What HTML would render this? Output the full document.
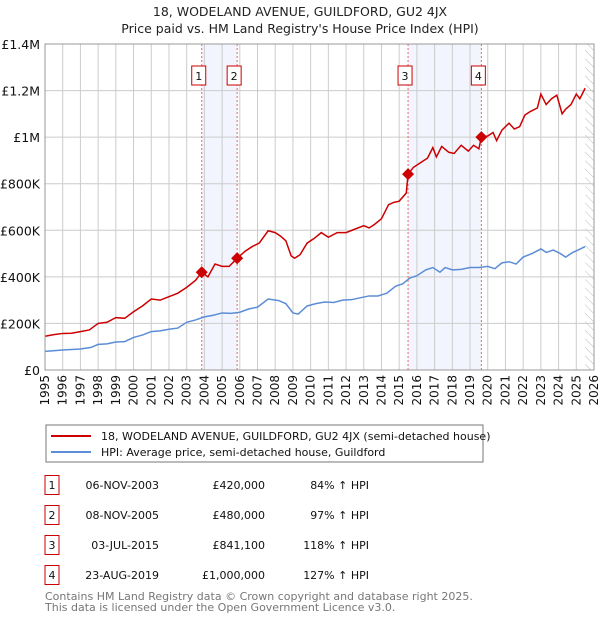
<!DOCTYPE html>
<html><head><meta charset="utf-8">
<style>
body{margin:0;background:#fff;width:600px;height:620px;overflow:hidden;font-family:"DejaVu Sans","Liberation Sans",sans-serif;}
svg{position:absolute;left:0;top:0}
</style></head>
<body>
<svg id="chart" width="600" height="620" font-family="DejaVu Sans, Liberation Sans, sans-serif">
<defs>
<pattern id="hatch" patternUnits="userSpaceOnUse" width="6" height="6" patternTransform="rotate(-45)">
<line x1="0" y1="0" x2="0" y2="6" stroke="#bbb" stroke-width="1"/>
</pattern>
</defs>
<text x="300" y="16" text-anchor="middle" font-size="12.5" fill="#222">18, WODELAND AVENUE, GUILDFORD, GU2 4JX</text>
<text x="300" y="33" text-anchor="middle" font-size="12.5" fill="#222">Price paid vs. HM Land Registry's House Price Index (HPI)</text>
<g id="plot"></g>
<rect x="46" y="425" width="437" height="37" fill="#fff" stroke="#777"/>
<line x1="51" y1="436" x2="91" y2="436" stroke="#cc0000" stroke-width="2"/>
<text x="101" y="440" font-size="11" fill="#111">18, WODELAND AVENUE, GUILDFORD, GU2 4JX (semi-detached house)</text>
<line x1="51" y1="452" x2="91" y2="452" stroke="#5b8dd6" stroke-width="2"/>
<text x="101" y="456" font-size="11" fill="#111">HPI: Average price, semi-detached house, Guildford</text>
<g id="table" font-size="11" fill="#111"></g>
<text x="45" y="600" font-size="11" fill="#777">Contains HM Land Registry data © Crown copyright and database right 2025.</text>
<text x="45" y="611" font-size="11" fill="#777">This data is licensed under the Open Government Licence v3.0.</text>
</svg>
<script>
const yearTicks=[1995,1996,1997,1998,1999,2000,2001,2002,2003,2004,2005,2006,2007,2008,2009,2010,2011,2012,2013,2014,2015,2016,2017,2018,2019,2020,2021,2022,2023,2024,2025,2026];
const yTicks=[0,200000,400000,600000,800000,1000000,1200000,1400000];
const yTickLabels=["£0","£200K","£400K","£600K","£800K","£1M","£1.2M","£1.4M"];
const propT=[1995,1995.5,1996,1996.5,1997,1997.5,1998,1998.5,1999,1999.5,2000,2000.5,2001,2001.5,2002,2002.5,2003,2003.5,2003.85,2004.2,2004.6,2005,2005.4,2005.85,2006.3,2006.7,2007.1,2007.6,2008.0,2008.3,2008.6,2008.9,2009.1,2009.4,2009.8,2010.2,2010.6,2011.0,2011.5,2012.0,2012.5,2013.0,2013.3,2013.6,2014.0,2014.4,2014.7,2015.0,2015.4,2015.5,2015.8,2016.2,2016.6,2016.9,2017.1,2017.4,2017.8,2018.1,2018.5,2018.9,2019.2,2019.5,2019.64,2020.0,2020.3,2020.5,2020.8,2021.2,2021.5,2021.8,2022.1,2022.4,2022.8,2023.0,2023.3,2023.6,2023.9,2024.2,2024.4,2024.7,2025.0,2025.2,2025.5];
const propV=[145000,152000,157000,158000,165000,172000,200000,205000,225000,222000,250000,275000,305000,300000,315000,330000,355000,385000,420000,400000,455000,445000,445000,480000,510000,530000,545000,598000,590000,575000,555000,490000,480000,495000,545000,565000,590000,570000,590000,590000,605000,620000,610000,625000,650000,710000,720000,725000,760000,841000,870000,890000,910000,955000,915000,960000,935000,930000,965000,940000,965000,950000,1000000,1005000,1020000,985000,1030000,1060000,1035000,1045000,1095000,1110000,1125000,1185000,1140000,1165000,1180000,1100000,1120000,1140000,1185000,1165000,1210000];
const hpiT=[1995,1996,1997,1997.6,1998,1998.5,1999,1999.5,2000,2000.5,2001,2001.5,2002,2002.5,2003,2003.5,2004,2004.5,2005,2005.5,2006,2006.5,2007,2007.6,2008.2,2008.6,2009.0,2009.3,2009.8,2010.3,2010.8,2011.3,2011.8,2012.3,2012.8,2013.3,2013.8,2014.3,2014.8,2015.2,2015.6,2016.0,2016.5,2016.9,2017.3,2017.6,2018.0,2018.5,2019.0,2019.5,2020.0,2020.4,2020.8,2021.2,2021.6,2022.0,2022.5,2023.0,2023.3,2023.7,2024.1,2024.4,2024.8,2025.1,2025.5];
const hpiV=[80000,86000,90000,97000,110000,112000,120000,122000,140000,150000,165000,168000,175000,180000,205000,215000,228000,235000,245000,243000,248000,262000,270000,305000,298000,285000,245000,240000,275000,285000,292000,290000,300000,302000,310000,318000,318000,330000,360000,370000,395000,405000,430000,440000,420000,440000,430000,432000,440000,440000,445000,435000,460000,465000,455000,485000,500000,520000,505000,515000,500000,485000,505000,515000,530000];
const saleT=[2003.85,2005.85,2015.5,2019.64];
const saleV=[420000,480000,841100,1000000];
const saleLabels=["1","2","3","4"];
const saleDates=["06-NOV-2003","08-NOV-2005","03-JUL-2015","23-AUG-2019"];
const salePrices=["£420,000","£480,000","£841,100","£1,000,000"];
const saleHpi=["84% ↑ HPI","97% ↑ HPI","118% ↑ HPI","127% ↑ HPI"];

const X0=45,X1=594,Y0=370,Y1=44;
const xs=t=>X0+(t-1995)/(2026-1995)*(X1-X0);
const ys=v=>Y0-v/1400000*(Y0-Y1);
const NS="http://www.w3.org/2000/svg";
const plot=document.getElementById('plot');
function mk(tag,attrs,parent){const e=document.createElementNS(NS,tag);for(const k in attrs)e.setAttribute(k,attrs[k]);(parent||plot).appendChild(e);return e;}

for(const [a,b] of [[0,1],[2,3]]){
  const r=mk('rect',{x:xs(saleT[a]),y:Y1,width:xs(saleT[b])-xs(saleT[a]),height:Y0-Y1,fill:'#f2f5fd'});
  
  
}
const h=mk('rect',{x:xs(2025.5),y:Y1,width:X1-xs(2025.5),height:Y0-Y1,fill:'url(#hatch)'});


yearTicks.forEach(t=>{
  const l=mk('line',{x1:xs(t),x2:xs(t),y1:Y1,y2:Y0,stroke:'#ccc','stroke-width':1});
  
  
  const tx=mk('text',{x:0,y:0,'font-size':12,fill:'#111','text-anchor':'end',transform:`translate(${xs(t)+4},${Y0+5}) rotate(-90)`});
  tx.textContent=t;
  
  
});
yTicks.forEach((v,i)=>{
  const l=mk('line',{x1:X0,x2:X1,y1:ys(v),y2:ys(v),stroke:'#ccc','stroke-width':1});
  
  
  const tx=mk('text',{x:40,y:ys(v)+5,'font-size':12.5,fill:'#111','text-anchor':'end'});
  tx.textContent=yTickLabels[i];
  
  
});
saleT.forEach((t,i)=>{
  const l=mk('line',{x1:xs(t),x2:xs(t),y1:Y1,y2:Y0,stroke:'#e66','stroke-width':1,'stroke-dasharray':'2,2'});
  
  
});
const hp=mk('polyline',{points:hpiT.map((t,i)=>xs(t)+','+ys(hpiV[i])).join(' '),fill:'none',stroke:'#5b8dd6','stroke-width':1.5});


const pp=mk('polyline',{points:propT.map((t,i)=>xs(t)+','+ys(propV[i])).join(' '),fill:'none',stroke:'#cc0000','stroke-width':1.5});


saleT.forEach((t,i)=>{
  const cx=xs(t),cy=ys(saleV[i]);
  const d=mk('polygon',{points:`${cx},${cy-6} ${cx+6},${cy} ${cx},${cy+6} ${cx-6},${cy}`,fill:'#cc0000'});
  
  
  const b=mk('rect',{x:cx-10,y:66,width:14,height:19,fill:'#fff',stroke:'#c00','stroke-width':1});
  
  
  const tx=mk('text',{x:cx-3,y:80,'font-size':11,'text-anchor':'middle',fill:'#111'});
  tx.textContent=saleLabels[i];
  
  
});
const fr=mk('rect',{x:X0,y:Y1,width:X1-X0,height:Y0-Y1,fill:'none',stroke:'#999','stroke-width':1});



const tb=document.getElementById('table');
const rowY=[485,515,545,575];
saleLabels.forEach((s,i)=>{
  const y=rowY[i];
  const b=mk('rect',{x:45,y:y-9.5,width:14,height:19,fill:'#fff',stroke:'#c00'},tb);
  
  
  const cols=[[52,'middle',s,'table-row-number'],[159,'end',saleDates[i],'table-date'],[265,'end',salePrices[i],'table-price'],[369,'end',saleHpi[i],'table-hpi-change']];
  cols.forEach(c=>{
    const t=mk('text',{x:c[0],y:y+4,'text-anchor':c[1]},tb);
    t.textContent=c[2];
    
    
  });
});
</script>
</body></html>
